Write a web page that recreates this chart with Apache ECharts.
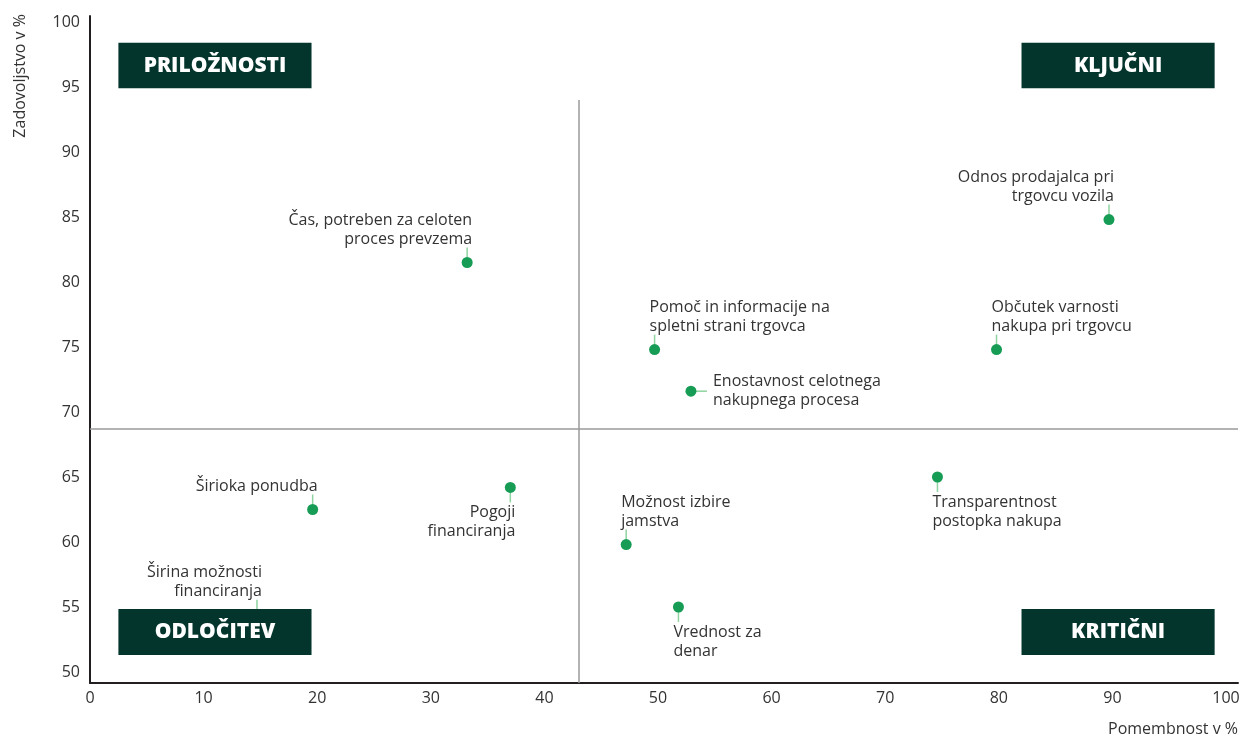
<!DOCTYPE html>
<html>
<head>
<meta charset="utf-8">
<script src="https://cdn.jsdelivr.net/npm/echarts@6/dist/echarts.min.js"></script>
<style>
  html, body { margin: 0; padding: 0; background: #fff; }
  #chart { width: 1243px; height: 738px; }
</style>
</head>
<body>
<div id="chart"></div>
<script>
// ---- data ----
const labels = [
  'Čas, potreben za celoten\nproces prevzema',
  'Pomoč in informacije na\nspletni strani trgovca',
  'Enostavnost celotnega\nnakupnega procesa',
  'Odnos prodajalca pri\ntrgovcu vozila',
  'Občutek varnosti\nnakupa pri trgovcu',
  'Širioka ponudba',
  'Pogoji\nfinanciranja',
  'Možnost izbire\njamstva',
  'Vrednost za\ndenar',
  'Transparentnost\npostopka nakupa',
  'Širina možnosti\nfinanciranja'
];
const importance   = [33.2, 49.7, 52.9, 89.7, 79.8, 19.6, 37.0, 47.2, 51.8, 74.6, 14.7];
const satisfaction = [81.5, 74.8, 71.6, 84.8, 74.8, 62.5, 64.2, 59.8, 55.0, 65.0, 54.4];
// label placement (style): upL = above, text to the left; upR = above, text to the right; etc.
const labelSide = ['upL', 'upR', 'right', 'upL', 'upR', 'upL', 'downL', 'upR', 'downR', 'downR', 'upL'];

const quadrantNames = ['PRILOŽNOSTI', 'KLJUČNI', 'ODLOČITEV', 'KRITIČNI'];
const xTicks = [0, 10, 20, 30, 40, 50, 60, 70, 80, 90, 100];
const yTicks = [50, 55, 60, 65, 70, 75, 80, 85, 90, 95, 100];
const splitX = 43.0;   // importance threshold
const splitY = 68.7;   // satisfaction threshold

const FONT = '"Open Sans", "Noto Sans", sans-serif';
const DOT = '#169c55';
const LEADER = '#8fd3a0';
const BOX = '#03352d';

const chart = echarts.init(document.getElementById('chart'), null, { renderer: 'canvas' });

const option = {
  animation: false,
  backgroundColor: '#ffffff',
  grid: [
    { left: 90, right: 17, top: 22, bottom: 66 },   // value grid
    { left: 90, right: 5, top: 16, bottom: 55 }     // axis-line grid
  ],
  xAxis: [
    {
      gridIndex: 0, type: 'value', min: xTicks[0], max: xTicks[xTicks.length - 1], interval: 10,
      axisLine: { show: false }, axisTick: { show: false }, splitLine: { show: false },
      axisLabel: { margin: 18, color: '#333', fontSize: 16, fontFamily: FONT }
    },
    {
      gridIndex: 1, type: 'value', min: 0, max: 101.06,
      axisLine: { show: true, lineStyle: { color: '#231f20', width: 2 } },
      axisTick: { show: false }, splitLine: { show: false }, axisLabel: { show: false }
    }
  ],
  yAxis: [
    {
      gridIndex: 0, type: 'value', min: yTicks[0], max: yTicks[yTicks.length - 1], interval: 5,
      axisLine: { show: false }, axisTick: { show: false }, splitLine: { show: false },
      axisLabel: { margin: 10, color: '#333', fontSize: 16, fontFamily: FONT }
    },
    {
      gridIndex: 1, type: 'value', min: 49.15, max: 100.46,
      axisLine: { show: true, lineStyle: { color: '#231f20', width: 2 } },
      axisTick: { show: false }, splitLine: { show: false }, axisLabel: { show: false }
    }
  ],
  graphic: [
    {
      type: 'text', x: 20, y: 14, rotation: Math.PI / 2,
      style: { text: 'Zadovoljstvo v %', align: 'right', verticalAlign: 'middle', font: '16px ' + FONT, fill: '#333' }
    },
    {
      type: 'text', right: 5, top: 721,
      style: { text: 'Pomembnost v %', font: '16px ' + FONT, fill: '#333' }
    }
  ],
  series: [
    {
      // quadrant divider lines
      type: 'scatter', xAxisIndex: 1, yAxisIndex: 1, data: [], silent: true,
      markLine: {
        silent: true, symbol: 'none', label: { show: false },
        lineStyle: { color: '#9a9a9a', width: 1.5, type: 'solid' },
        data: [
          { yAxis: splitY },
          [{ coord: [splitX, 49.15] }, { coord: [splitX, 94.0] }]
        ]
      }
    },
    {
      type: 'custom', xAxisIndex: 0, yAxisIndex: 0, z: 2,
      data: importance.map((v, i) => [v, satisfaction[i]]),
      encode: { x: 0, y: 1 },
      renderItem: function (params, api) {
        const i = params.dataIndex;
        const p = api.coord([api.value(0), api.value(1)]);
        const side = labelSide[i];
        let l, tx, ty, align, valign;
        switch (side) {
          case 'upL':
            l = [p[0], p[1] - 15, p[0], p[1] - 5]; tx = p[0] + 5; ty = p[1] - 14; align = 'right'; valign = 'bottom'; break;
          case 'upR':
            l = [p[0], p[1] - 15, p[0], p[1] - 5]; tx = p[0] - 5; ty = p[1] - 14; align = 'left'; valign = 'bottom'; break;
          case 'downL':
            l = [p[0], p[1] + 5, p[0], p[1] + 15]; tx = p[0] + 5; ty = p[1] + 16; align = 'right'; valign = 'top'; break;
          case 'downR':
            l = [p[0], p[1] + 5, p[0], p[1] + 15]; tx = p[0] - 5; ty = p[1] + 16; align = 'left'; valign = 'top'; break;
          default:
            l = [p[0] + 5, p[1], p[0] + 16, p[1]]; tx = p[0] + 22; ty = p[1]; align = 'left'; valign = 'middle';
        }
        return {
          type: 'group',
          children: [
            { type: 'line', shape: { x1: l[0], y1: l[1], x2: l[2], y2: l[3] }, style: { stroke: LEADER, lineWidth: 1.5 } },
            { type: 'circle', shape: { cx: p[0], cy: p[1], r: 5.5 }, style: { fill: DOT } },
            {
              type: 'text',
              style: {
                text: labels[i], x: tx, y: ty, align: align, verticalAlign: valign,
                font: '16px ' + FONT, fill: '#333', lineHeight: 19
              }
            }
          ]
        };
      }
    },
    {
      // quadrant name boxes (drawn over the points)
      type: 'scatter', xAxisIndex: 0, yAxisIndex: 0, data: [], silent: true, z: 10,
      markArea: {
        silent: true, z: 20,
        itemStyle: { color: BOX, opacity: 1 },
        label: {
          show: true, position: 'inside', color: '#fff', fontSize: 21, fontWeight: 800, fontFamily: FONT
        },
        data: [
          [{ name: quadrantNames[0], coord: [2.5, 98.4] }, { coord: [19.5, 94.9] }],
          [{ name: quadrantNames[1], coord: [82.0, 98.4] }, { coord: [99.0, 94.9] }],
          [{ name: quadrantNames[2], coord: [2.5, 54.85] }, { coord: [19.5, 51.3] }],
          [{ name: quadrantNames[3], coord: [82.0, 54.85] }, { coord: [99.0, 51.3] }]
        ]
      }
    }
  ]
};

chart.setOption(option);
</script>
</body>
</html>
